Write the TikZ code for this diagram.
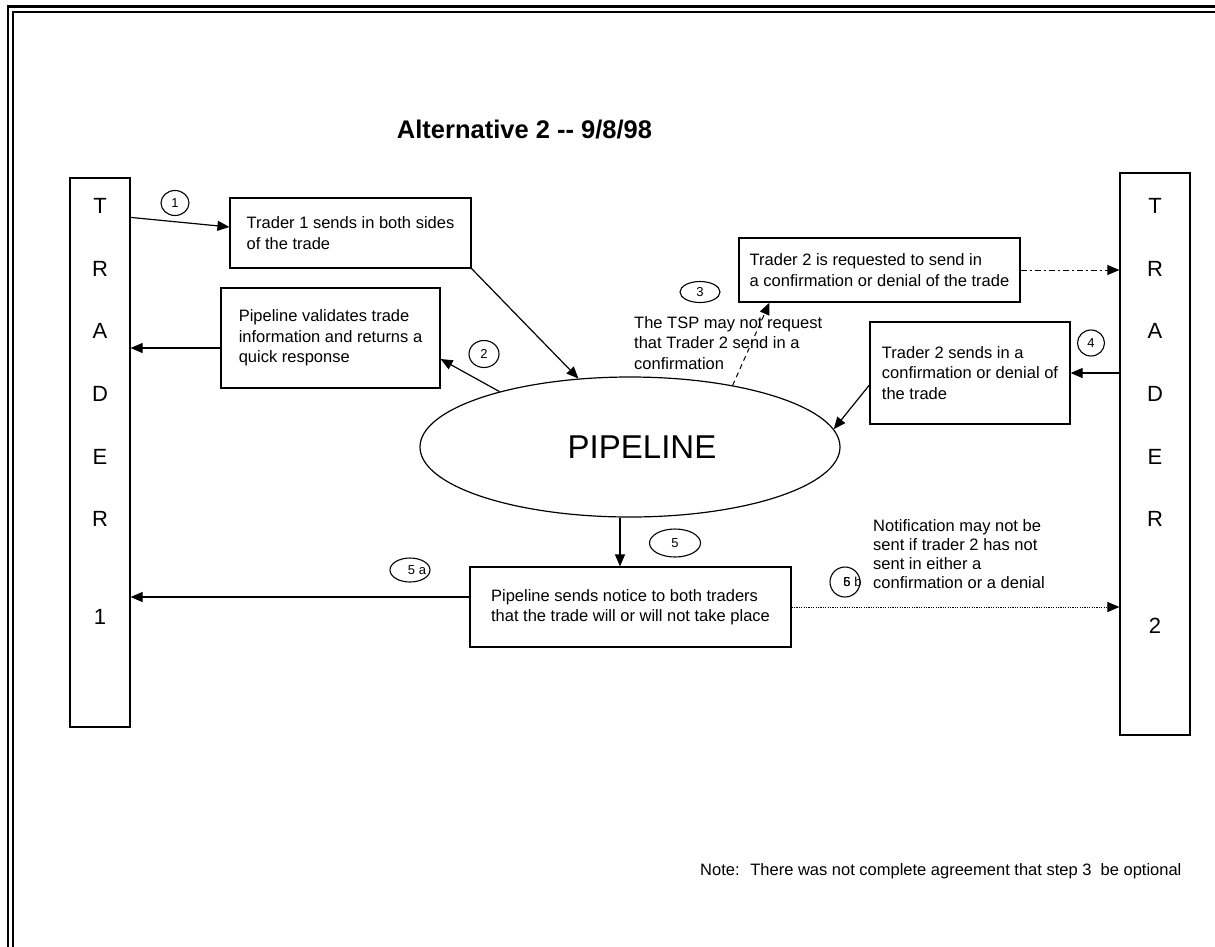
\documentclass[tikz,border=0pt]{standalone}
\usepackage{fontspec}
\setmainfont{Liberation Sans}
\usetikzlibrary{arrows.meta}
\usetikzlibrary{shapes.geometric}
\tikzset{
    txt/.style = {align=left, inner sep=0pt, font=\fontsize{16.5}{20.5}\selectfont},
    msgbox/.style = {txt, rectangle, draw=black, line width=1.2pt},
    trader/.style = {rectangle, draw=black, line width=1.2pt, inner sep=0pt},
    letters/.style = {align=center, inner sep=0pt, font=\fontsize{22}{62.6}\selectfont},
    stepno/.style = {ellipse, draw=black, line width=1.1pt, inner sep=0pt, font=\fontsize{13}{13}\selectfont}
}

\begin{document}
\begin{tikzpicture}[x=1pt, y=-1pt, >={Triangle[length=12pt,width=10pt]},
                    flow/.style={->, line width=1.2pt}]
    \useasboundingbox (0,0) rectangle (1215,946);
    \clip (0,0) rectangle (1215,946);
    % page frame, runs off right and bottom
    \draw [line width=2.3pt] (8,6.5) rectangle (1260,1000);
    \draw [line width=2.3pt] (13.2,12) rectangle (1250,990);

    \node (title) at (524.5,130) {\fontsize{25.5}{30}\selectfont\bfseries Alternative 2 -{}- 9/8/98};

    % traders
    \node [trader, minimum width=60pt, minimum height=549pt] (t1) at (100,452.5) {};
    \node [letters, anchor=north] (t1name) at ([yshift=-21pt]t1.north) {T\\R\\A\\D\\E\\R\\[35.4pt]1};
    \node [trader, minimum width=70pt, minimum height=562pt] (t2) at (1155,454) {};
    \node [letters, anchor=north] (t2name) at ([yshift=-26pt]t2.north) {T\\R\\A\\D\\E\\R\\[44.4pt]2};

    \node [ellipse, draw=black, line width=1.2pt, minimum width=420pt, minimum height=140pt, inner sep=0pt,
           font=\fontsize{33}{33}\selectfont] (pipe) at (630,447) {\hspace*{24pt}PIPELINE};

    % message boxes
    \node [msgbox, minimum width=241pt, minimum height=70pt] (sides) at (350.5,233)
        {Trader 1 sends in both sides\\of the trade};
    \node [msgbox, minimum width=219pt, minimum height=100pt] (valid) at (330.5,338)
        {Pipeline validates trade\\information and returns a\\quick response};
    \node [msgbox, minimum width=281pt, minimum height=64pt] (req) at (879.5,270)
        {Trader 2 is requested to send in\\a confirmation or denial of the trade};
    \node [msgbox, minimum width=200pt, minimum height=102pt] (conf) at (970,373)
        {Trader 2 sends in a\\confirmation or denial of\\the trade};
    \node [msgbox, minimum width=321pt, minimum height=80pt] (notice) at (630.5,607)
        {Pipeline sends notice to both traders\\that the trade will or will not take place};

    % remarks
    \node [txt, anchor=north west] (tsp) at (634,316)
        {The TSP may not request\\that Trader 2 send in a\\confirmation};
    \node [txt, anchor=north west, font=\fontsize{16.5}{19}\selectfont] (notif) at (873,519)
        {Notification may not be\\sent if trader 2 has not\\sent in either a\\confirmation or a denial};
    \node [txt, anchor=west] (note) at (700,871)
        {Note:~ There was not complete agreement that step 3~ be optional};

    % step numbers
    \node [stepno, minimum width=28pt, minimum height=25pt] (s1) at (175,203) {1};
    \node [stepno, minimum width=30pt, minimum height=27pt] (s2) at (484,354) {2};
    \node [stepno, minimum width=40pt, minimum height=21pt] (s3) at (700,292) {3};
    \node [stepno, minimum width=27pt, minimum height=26pt] (s4) at (1091,343) {4};
    \node [stepno, minimum width=51pt, minimum height=28pt] (s5) at (675,543) {5};
    \node [stepno, minimum width=40pt, minimum height=24pt] (s5a) at (410,570) {\makebox[0pt]{\hspace*{14pt}5 a}};
    \node [stepno, minimum width=30pt, minimum height=30pt] (s5b) at (845,582) {\makebox[0pt]{\hspace*{15pt}\rlap{6}5 b}};

    % connectors
    \draw [flow] ([yshift=-40pt]t1.north east) -- ([yshift=6pt]sides.west);
    \draw [flow] (sides.south east) -- (pipe.127);
    \draw [flow] ([yshift=-10pt]valid.west) -- ([yshift=-10pt]valid.west -| t1.east);
    \draw [flow] (pipe.157) -- ([yshift=-21pt]valid.east);
    \draw [flow, line width=1pt, dash pattern=on 5pt off 4pt] (pipe.31) -- ([xshift=-110pt]req.south);
    \draw [flow, line width=1pt, dash pattern=on 6pt off 3pt on 2pt off 3pt] (req.east) -- (req.east -| t2.west);
    \draw [flow] (t2.west |- conf.east) -- (conf.east);
    \draw [flow] ([yshift=-12pt]conf.west) -- (pipe.5);
    \draw [flow] ([xshift=-10pt]pipe.south) -- ([xshift=-10pt]pipe.south |- notice.north);
    \draw [flow] ([yshift=10pt]notice.west) -- ([yshift=10pt]notice.west -| t1.east);
    \draw [flow, line width=1pt, dash pattern=on 1.2pt off 1.2pt] (notice.east) -- (notice.east -| t2.west);
\end{tikzpicture}
\end{document}
